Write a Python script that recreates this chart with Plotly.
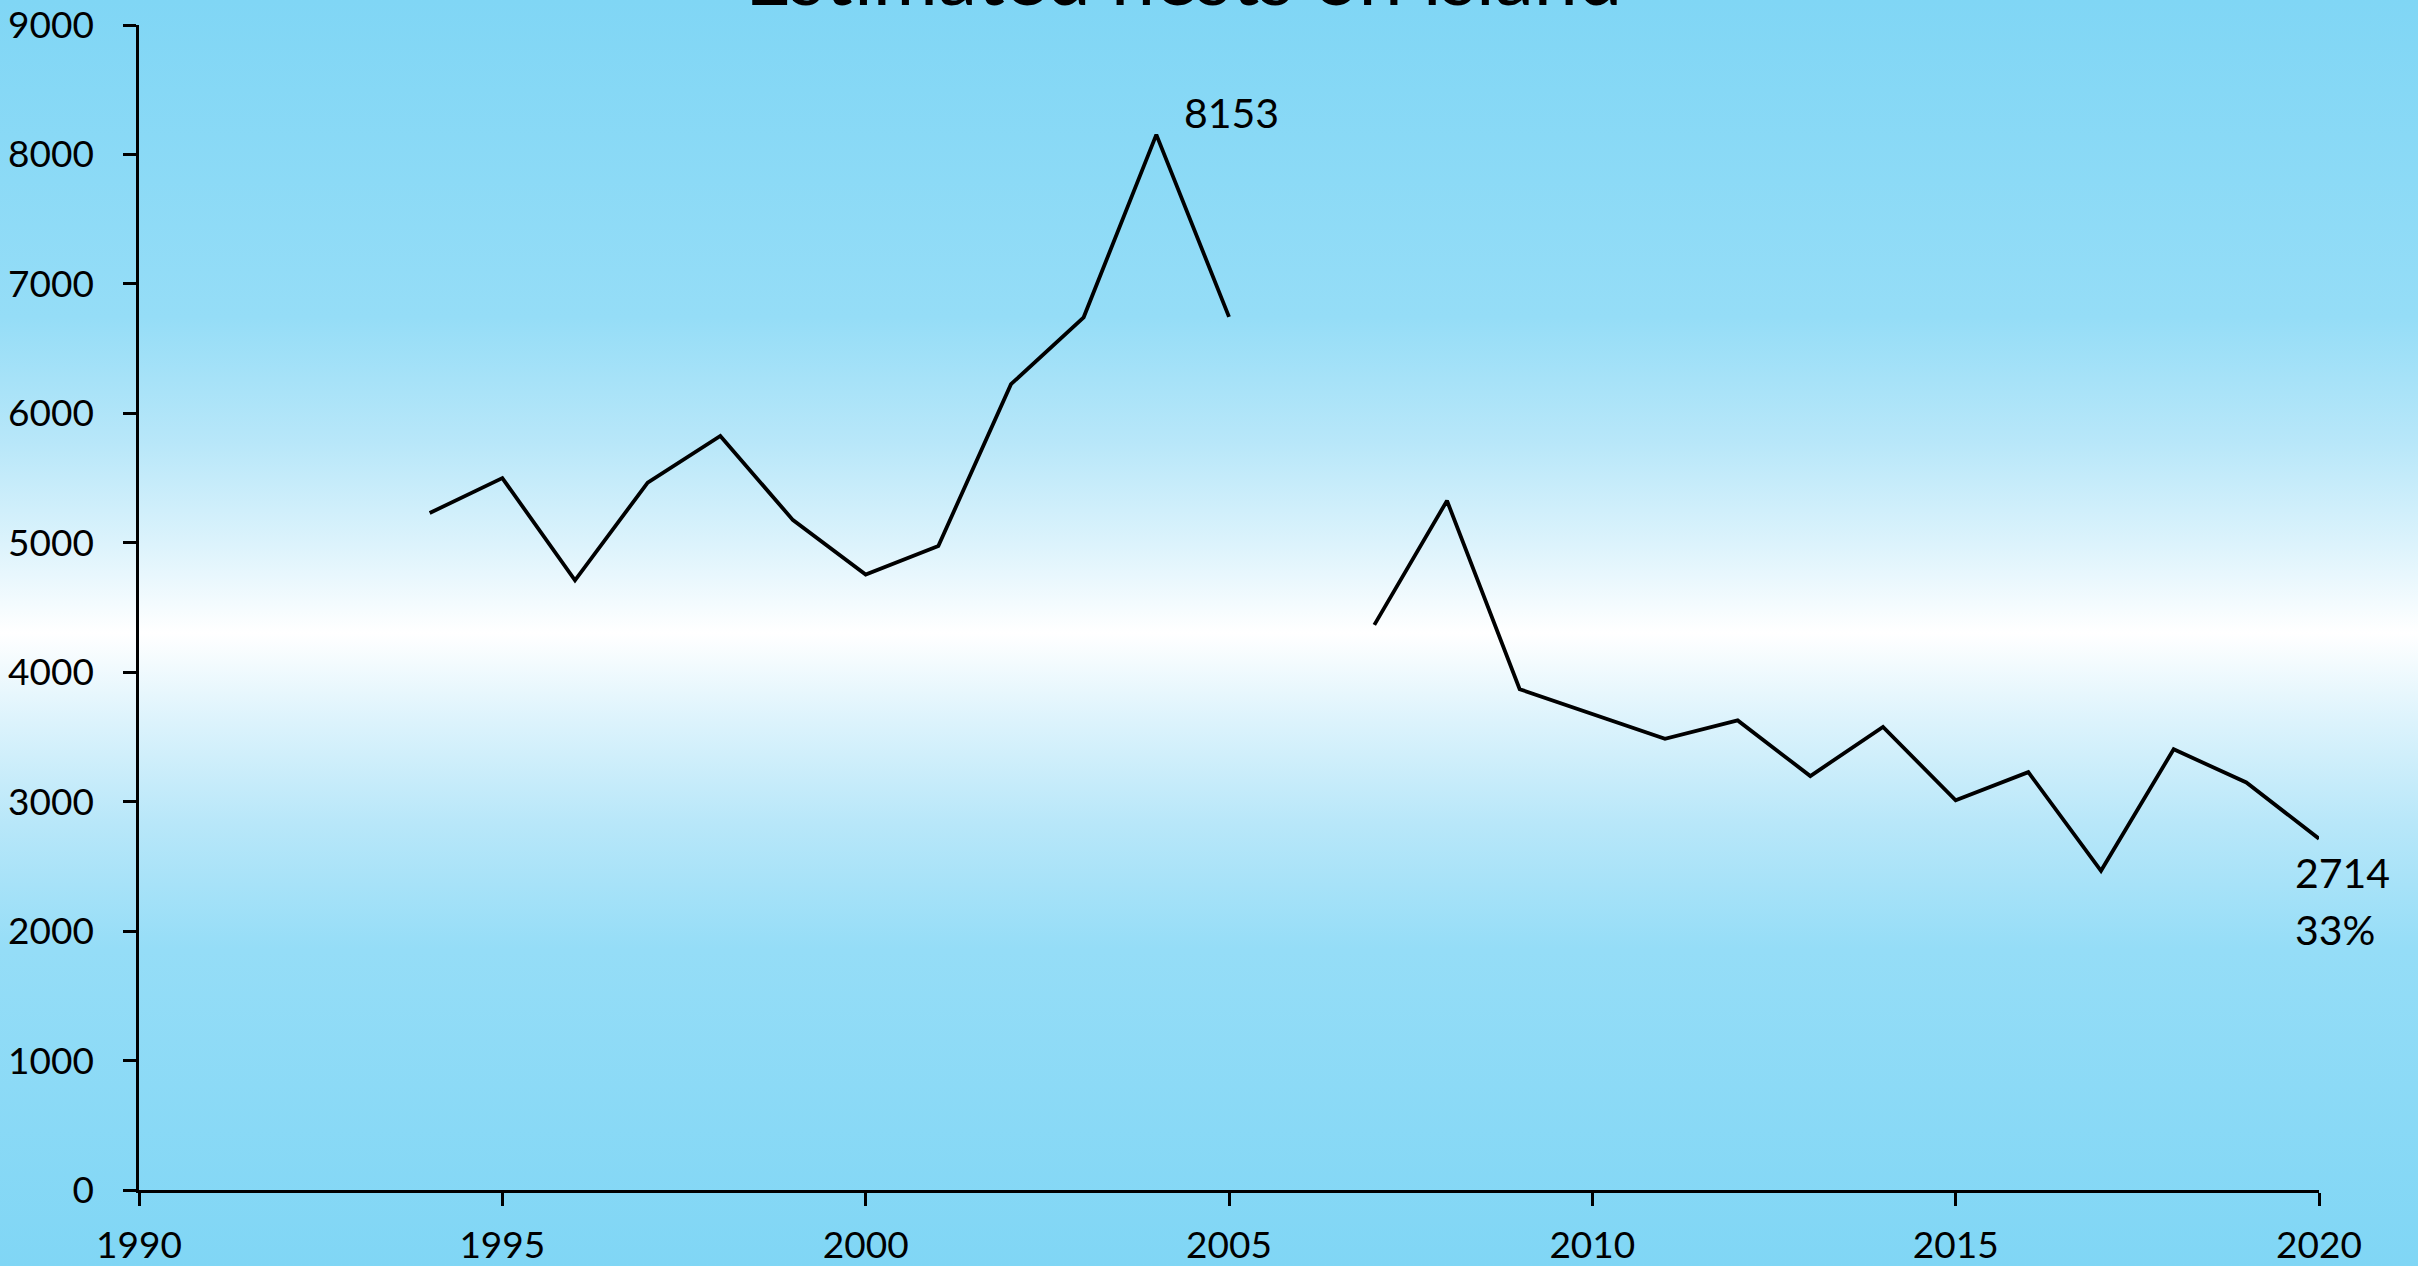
import base64
import plotly.graph_objects as go

# ---- data ----
years = [1994, 1995, 1996, 1997, 1998, 1999, 2000, 2001, 2002, 2003, 2004, 2005,
         2006, 2007, 2008, 2009, 2010, 2011, 2012, 2013, 2014, 2015, 2016, 2017,
         2018, 2019, 2020]
nests = [5230, 5500, 4710, 5465, 5825, 5175, 4755, 4975, 6225, 6742, 8153, 6745,
         None, 4366, 5325, 3869, 3678, 3485, 3628, 3198, 3578, 3010, 3228, 2466,
         3405, 3148, 2714]
title_text = "Estimated nests on island"
x_ticks = [1990, 1995, 2000, 2005, 2010, 2015, 2020]
y_ticks = [0, 1000, 2000, 3000, 4000, 5000, 6000, 7000, 8000, 9000]

W, H = 2418, 1266
ML, MR, MT, MB = 139, 99, 25, 76
FONT = "Lato"

# ---- gradient background (SVG data URI) ----
stops = [(0.0, "#80D6F5"), (0.25, "#95DDF7"), (0.35, "#B8E7F9"), (0.43, "#DCF3FC"),
         (0.5, "#FFFFFF"), (0.57, "#DCF3FC"), (0.65, "#B8E7F9"), (0.75, "#95DDF7"),
         (1.0, "#80D6F5")]
stop_svg = "".join(f'<stop offset="{o}" stop-color="{c}"/>' for o, c in stops)
svg = (f'<svg xmlns="http://www.w3.org/2000/svg" width="{W}" height="{H}" '
       f'viewBox="0 0 {W} {H}" preserveAspectRatio="none">'
       f'<defs><linearGradient id="g" x1="0" y1="0" x2="0" y2="1">{stop_svg}'
       f'</linearGradient></defs><rect x="0" y="0" width="{W}" height="{H}" fill="url(#g)"/></svg>')
uri = "data:image/svg+xml;base64," + base64.b64encode(svg.encode()).decode()

pw, ph = W - ML - MR, H - MT - MB

fig = go.Figure()
fig.add_trace(go.Scatter(x=years, y=nests, mode="lines",
                         line=dict(color="black", width=3.8),
                         connectgaps=False, hoverinfo="skip", showlegend=False))

peak = max(v for v in nests if v is not None)
peak_year = years[nests.index(peak)]
last = nests[-1]
pct = round(last / peak * 100)

annotations = [
    dict(text=title_text, xref="paper", yref="paper", x=(1183 - ML) / pw, y=1 + (MT - 7) / ph,
         xanchor="center", yanchor="bottom", showarrow=False, yshift=-17,
         font=dict(family=FONT, size=79, color="black")),
    dict(text=str(peak), x=peak_year, y=peak, xanchor="left", yanchor="middle",
         xshift=26, yshift=22, showarrow=False,
         font=dict(family=FONT, size=41, color="black")),
    dict(text=str(last), x=years[-1], y=last, xanchor="left", yanchor="middle",
         xshift=-26, yshift=-34, showarrow=False,
         font=dict(family=FONT, size=41, color="black")),
    dict(text=f"{pct}%", x=years[-1], y=last, xanchor="left", yanchor="middle",
         xshift=-26, yshift=-91, showarrow=False,
         font=dict(family=FONT, size=41, color="black")),
]

fig.update_layout(
    width=W, height=H,
    margin=dict(l=ML, r=MR, t=MT, b=MB, pad=0, autoexpand=False),
    paper_bgcolor="#80D6F5",
    plot_bgcolor="rgba(0,0,0,0)",
    images=[dict(source=uri, xref="paper", yref="paper", x=-ML / pw, y=1 + MT / ph,
                 sizex=W / pw, sizey=H / ph, sizing="stretch", xanchor="left",
                 yanchor="top", layer="below")],
    annotations=annotations,
    xaxis=dict(range=[1990, 2020], tickvals=x_ticks, ticktext=[str(t) for t in x_ticks],
               showgrid=False, zeroline=False, showline=True, linecolor="black", linewidth=2.5,
               ticks="outside", ticklen=13, tickwidth=2.5, tickcolor="black", automargin=False,
               tickfont=dict(family=FONT, size=37, color="black"), ticklabelstandoff=8),
    yaxis=dict(range=[0, 9000], tickvals=y_ticks, ticktext=[str(t) for t in y_ticks],
               showgrid=False, zeroline=False, showline=True, linecolor="black", linewidth=2.5,
               ticks="outside", ticklen=13, tickwidth=2.5, tickcolor="black", automargin=False,
               tickfont=dict(family=FONT, size=37, color="black"), ticklabelstandoff=22),
)

fig.write_html("out.html", config={"displayModeBar": False},
               post_script="document.body.style.margin='0';document.body.style.overflow='hidden';")
